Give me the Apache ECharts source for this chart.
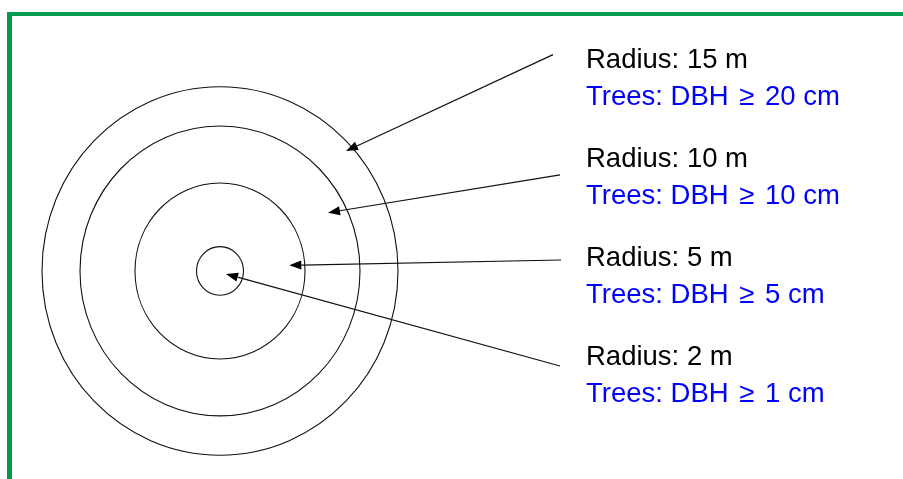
<!DOCTYPE html>
<html><head><meta charset="utf-8">
<script src="https://cdn.jsdelivr.net/npm/echarts@6/dist/echarts.min.js"></script>
<style>html,body{margin:0;padding:0;background:#fff}#c{width:903px;height:479px}</style>
</head><body><div id="c"></div>
<script>
// Plot design: nested circular subplots
const plotRadiusM = [15, 10, 5, 2];
const minDbhCm = [20, 10, 5, 1];
// drawn ring radius in diagram units (not to scale in the original)
const ringDrawRadius = [17.8, 14.0, 8.5, 2.35];
// arrow tail / head points in diagram units (centre of rings = 0,0)
const arrowTail = [[33.3, 20.9], [34.0, 9.28], [34.1, 1.06], [34.0, -9.18]];
const arrowHead = [[12.6, 11.59], [10.8, 5.63], [6.93, 0.55], [0.6, -0.29]];
// label anchor points in diagram units
const labelAnchor = [[36.6, 20.33], [36.6, 10.77], [36.6, 1.20], [36.6, -8.36]];

const FONT = '27.5px "Liberation Sans", Arial, sans-serif';
const chart = echarts.init(document.getElementById('c'), null, {renderer: 'canvas'});
chart.setOption({
  animation: false,
  backgroundColor: '#ffffff',
  grid: {left: 0, right: 0, top: 0, bottom: 0},
  xAxis: {type: 'value', min: -22, max: 68.3, show: false},
  yAxis: {type: 'value', min: -20.10, max: 26.18, show: false},
  graphic: [
    {type: 'rect', shape: {x: 7, y: 12, width: 896, height: 4}, style: {fill: '#009b4e'}},
    {type: 'rect', shape: {x: 7, y: 12, width: 5, height: 467}, style: {fill: '#009b4e'}}
  ],
  series: [
    {
      type: 'custom', coordinateSystem: 'cartesian2d', silent: true,
      data: ringDrawRadius.map(r => [0, 0, r]),
      renderItem(params, api) {
        const c = api.coord([api.value(0), api.value(1)]);
        const s = api.size([api.value(2), api.value(2)]);
        return {type: 'ellipse', shape: {cx: c[0], cy: c[1], rx: s[0], ry: s[1]},
          style: {fill: 'none', stroke: '#111', lineWidth: 1.1}};
      }
    },
    {
      type: 'custom', coordinateSystem: 'cartesian2d', silent: true,
      data: arrowTail.map((t, i) => [t[0], t[1], arrowHead[i][0], arrowHead[i][1]]),
      renderItem(params, api) {
        const t = api.coord([api.value(0), api.value(1)]);
        const h = api.coord([api.value(2), api.value(3)]);
        const dx = h[0] - t[0], dy = h[1] - t[1], L = Math.hypot(dx, dy);
        const ux = dx / L, uy = dy / L, len = 12, hw = 4.5;
        const bx = h[0] - ux * len, by = h[1] - uy * len;
        return {type: 'group', children: [
          {type: 'line', shape: {x1: t[0], y1: t[1], x2: bx, y2: by}, style: {stroke: '#111', lineWidth: 1.2}},
          {type: 'polygon', shape: {points: [[h[0], h[1]], [bx - uy * hw, by + ux * hw], [bx + uy * hw, by - ux * hw]]},
            style: {fill: '#000'}}
        ]};
      }
    },
    {
      type: 'custom', coordinateSystem: 'cartesian2d', silent: true,
      data: labelAnchor.map(a => [a[0], a[1]]),
      renderItem(params, api) {
        const i = params.dataIndex;
        const p = api.coord([api.value(0), api.value(1)]);
        return {type: 'group', children: [
          {type: 'text', x: p[0], y: p[1], style: {text: 'Radius: ' + plotRadiusM[i] + ' m', fill: '#000',
            font: FONT, align: 'left', verticalAlign: 'middle'}},
          {type: 'text', x: p[0], y: p[1] + 36.5, style: {
            text: '{a|Trees: DBH }{g|\u2265}{a| ' + minDbhCm[i] + ' cm}',
            align: 'left', verticalAlign: 'middle',
            rich: {
              a: {fill: '#0000ff', font: FONT},
              g: {fill: '#0000ff', font: FONT, padding: [0, 3, 0, 3]}
            }
          }}
        ]};
      }
    }
  ]
});
</script></body></html>
